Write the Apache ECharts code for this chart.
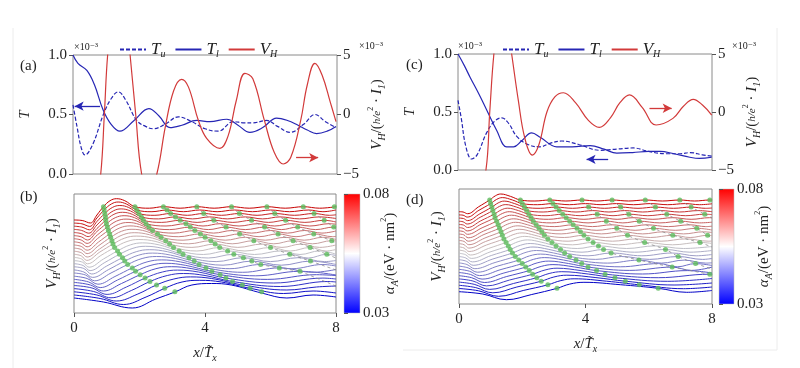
<!DOCTYPE html>
<html><head><meta charset="utf-8">
<script src="https://cdn.jsdelivr.net/npm/echarts@6/dist/echarts.min.js"></script>
<style>html,body{margin:0;padding:0;background:#fff}#c{width:800px;height:368px}</style>
</head><body><div id="c"></div>
<script>
// ---------- tick values ----------
const xTicks = [0, 4, 8];
const tTicks = [0, 0.5, 1];
const vTicks = [-5, 0, 5];
const alphaTicks = [0.03, 0.08];

// ---------- panel (a) ----------
const tuA = [[0,0.58],[0.12,0.4],[0.25,0.22],[0.36,0.16],[0.6,0.25],[0.92,0.5],[1.15,0.63],[1.37,0.69],[1.6,0.62],[1.93,0.45],[2.2,0.4],[2.43,0.38],[2.8,0.42],[3.19,0.48],[3.6,0.44],[4.0,0.38],[4.4,0.36],[4.86,0.44],[5.2,0.43],[5.45,0.43],[5.87,0.45],[6.2,0.4],[6.58,0.35],[7.0,0.42],[7.33,0.5],[7.65,0.44],[7.97,0.39]];
const tlA = [[0,1.0],[0.15,0.93],[0.42,0.87],[0.65,0.75],[0.91,0.54],[1.15,0.42],[1.42,0.36],[1.85,0.45],[2.3,0.55],[2.6,0.49],[2.94,0.39],[3.3,0.41],[3.75,0.45],[4.15,0.44],[4.66,0.46],[5.0,0.41],[5.36,0.35],[5.75,0.39],[6.17,0.47],[6.5,0.45],[6.82,0.41],[7.1,0.37],[7.38,0.34],[7.7,0.36],[7.97,0.4]];
const vhA = [[0,-14],[0.4,-11],[0.7,-7],[0.84,-5],[0.95,0],[1.05,5],[1.2,8.5],[1.45,9.5],[1.62,8],[1.73,5],[1.9,0],[2.08,-5],[2.3,-6.5],[2.54,-5],[2.8,-1],[3.05,2],[3.29,2.96],[3.5,2.3],[3.8,-0.5],[4.05,-2],[4.45,-2.84],[4.7,-1.8],[4.95,1.2],[5.21,3.46],[5.45,3.0],[5.8,-0.5],[6.1,-3.2],[6.37,-4.16],[6.6,-3.6],[6.9,-0.5],[7.1,2.5],[7.33,4.3],[7.55,3.3],[7.8,1.0],[7.97,-0.6]];
const arrowTA = [[0.82,0.57],[0.05,0.57]];
const arrowVA = [[6.76,-3.63],[7.43,-3.63]];

// ---------- panel (c) ----------
const tuC = [[0,0.6],[0.1,0.45],[0.25,0.2],[0.43,0.095],[0.6,0.13],[0.9,0.32],[1.15,0.42],[1.38,0.45],[1.6,0.4],[1.85,0.29],[2.2,0.22],[2.58,0.2],[2.9,0.23],[3.27,0.25],[3.8,0.22],[4.47,0.17],[5.0,0.18],[5.52,0.19],[6.0,0.16],[6.57,0.14],[7.0,0.14],[7.31,0.15],[7.7,0.13],[7.99,0.12]];
const tlC = [[0,1.0],[0.2,0.9],[0.38,0.8],[0.65,0.66],[0.9,0.52],[1.22,0.34],[1.53,0.2],[1.75,0.2],[2.0,0.25],[2.32,0.32],[2.6,0.28],[3.11,0.2],[3.6,0.2],[4.16,0.21],[4.6,0.18],[5.0,0.145],[5.5,0.15],[6.0,0.16],[6.36,0.16],[6.8,0.14],[7.3,0.11],[7.6,0.1],[7.99,0.11]];
const vhC = [[0,-14],[0.5,-10],[0.88,-5],[1.0,0],[1.13,5],[1.3,8.5],[1.5,8.5],[1.69,5],[1.9,1],[2.1,-2.2],[2.34,-3.71],[2.55,-2.8],[2.8,0],[3.05,1.3],[3.32,1.66],[3.7,0.8],[4.1,-0.7],[4.45,-1.32],[4.8,-0.5],[5.1,0.8],[5.4,1.47],[5.8,0.4],[6.24,-1.12],[6.77,-0.55],[7.1,0.5],[7.41,1.09],[7.7,0.6],[7.99,-0.26]];
const arrowVC = [[6.03,0.32],[6.73,0.32]];
const arrowTC = [[4.73,0.092],[4.05,0.092]];

// ---------- panel (b): V_H curves (offset display units), alpha 0.03 -> 0.08 ----------
const alphaB = [0.03,0.032,0.034,0.036,0.038,0.04,0.042,0.044,0.046,0.048,0.05,0.052,0.054,0.056,0.058,0.06,0.062,0.064,0.066,0.068,0.07,0.072,0.074,0.076,0.078,0.08];
const curvesB = [
[[0,15],[0.9,11],[1.78,5],[2.5,14],[3.08,21],[3.6,28],[4.2,29.5],[4.8,28],[5.73,20],[6.5,15],[7.3,18],[8,16]],
[[0,18],[0.8,14.5],[1.51,8.5],[2.2,16],[2.77,24.7],[3.3,31],[3.84,32.7],[4.5,31],[5.38,24.7],[6.4,19.5],[7.3,22],[8,20]],
[[0,21.2],[0.7,18],[1.29,12],[1.95,19],[2.52,28.1],[3.05,34],[3.56,36.1],[4.2,34.5],[5.14,28.1],[6.5,23],[7.4,26],[8,27]],
[[0,24.4],[0.6,21.5],[1.13,15.2],[1.75,22.5],[2.32,31.5],[2.85,37.5],[3.34,39.5],[4.0,37.5],[4.84,31.5],[6.3,26.5],[7.75,31.5],[8,31]],
[[0,27.5],[0.55,25],[1.01,18.6],[1.6,26],[2.17,34.9],[2.7,41],[3.16,42.9],[3.8,41],[4.64,34.9],[6.1,30],[7.6,34.9],[8,34]],
[[0,30.6],[0.5,28],[0.9,22],[1.45,29.5],[2.02,38.3],[2.5,44.3],[2.98,46.3],[3.6,44.3],[4.46,38.3],[5.9,33.6],[7.4,38.3],[8,37.5]],
[[0,33.7],[0.45,31],[0.8,25.4],[1.33,33],[1.88,41.7],[2.35,47.7],[2.81,49.7],[3.4,47.7],[4.21,41.7],[5.55,37.2],[6.9,41.7],[8,38]],
[[0,36.8],[0.4,34.5],[0.73,28.8],[1.25,36.5],[1.78,45.1],[2.23,51.1],[2.68,53.1],[3.25,51.1],[4.03,45.1],[5.15,40.7],[6.27,45.1],[7.3,40.7],[8,43.5]],
[[0,40],[0.35,38],[0.63,32.2],[1.13,40],[1.64,48.5],[2.08,54.5],[2.52,56.5],[3.1,54.5],[3.82,48.5],[4.76,44.3],[5.7,48.5],[6.65,44.3],[7.6,48.5],[8,47]],
[[0,43.1],[0.3,41],[0.57,35.6],[1.06,43.5],[1.55,51.9],[1.98,57.9],[2.4,59.9],[2.95,57.9],[3.67,51.9],[4.55,47.8],[5.43,51.9],[6.33,47.8],[7.22,51.9],[8,48.5]],
[[0,46.2],[0.3,44.5],[0.54,39],[1.0,47],[1.48,55.3],[1.9,61.3],[2.3,63.3],[2.85,61.3],[3.51,55.3],[4.34,51.4],[5.17,55.3],[6.0,51.4],[6.84,55.3],[7.65,51.4],[8,52.5]],
[[0,49.3],[0.28,47.5],[0.49,42.4],[0.94,50.5],[1.39,58.7],[1.8,64.7],[2.18,66.7],[2.7,64.7],[3.33,58.7],[4.1,55],[4.88,58.7],[5.73,55],[6.59,58.7],[7.15,55],[7.72,58.7],[8,57.5]],
[[0,52.4],[0.26,50.8],[0.46,45.8],[0.9,54],[1.33,62.1],[1.72,68.1],[2.09,70.1],[2.6,68.1],[3.21,62.1],[3.95,58.5],[4.69,62.1],[5.51,58.5],[6.33,62.1],[6.9,58.5],[7.5,62.1],[8,58.8]],
[[0,55.6],[0.23,54],[0.41,49.2],[0.82,57.5],[1.24,65.5],[1.62,71.5],[1.98,73.5],[2.5,71.5],[3.04,65.5],[3.75,62],[4.45,65.5],[5.22,62],[6.0,65.5],[6.6,62],[7.21,65.5],[7.7,62],[8,63.5]],
[[0,58.7],[0.22,57.2],[0.39,52.6],[0.79,61],[1.19,68.9],[1.55,74.9],[1.9,76.9],[2.4,74.9],[2.92,68.9],[3.6,65.6],[4.31,68.9],[5.0,65.6],[5.74,68.9],[6.35,65.6],[6.93,68.9],[7.5,65.6],[8,68]],
[[0,61.8],[0.22,60.3],[0.4,56],[0.78,64],[1.16,72.3],[1.5,78.3],[1.84,80.3],[2.3,78.3],[2.8,72.3],[3.5,69.2],[4.18,72.3],[4.83,69.2],[5.49,72.3],[6.1,69.2],[6.69,72.3],[7.28,69.2],[7.87,72.3],[8,72]],
[[0,64.9],[0.22,63.5],[0.4,59.4],[0.76,67.5],[1.12,75.7],[1.45,81.7],[1.77,83.7],[2.2,81.7],[2.66,75.7],[3.33,72.8],[4.0,75.7],[4.62,72.8],[5.23,75.7],[5.84,72.8],[6.45,75.7],[7.03,72.8],[7.6,75.7],[8,73.5]],
[[0,68],[0.22,66.6],[0.4,62.8],[0.75,71],[1.09,79.1],[1.4,85.1],[1.71,87.1],[2.1,85.1],[2.55,79.1],[3.2,76.3],[3.86,79.1],[4.46,76.3],[5.06,79.1],[5.65,76.3],[6.23,79.1],[6.78,76.3],[7.32,79.1],[7.9,76.3],[8,76.6]],
[[0,71.2],[0.22,69.8],[0.4,66.2],[0.72,74.5],[1.05,82.5],[1.35,88.5],[1.65,90.5],[2.0,88.5],[2.4,82.5],[3.05,79.9],[3.69,82.5],[4.26,79.9],[4.83,82.5],[5.42,79.9],[6.01,82.5],[6.52,79.9],[7.04,82.5],[7.57,79.9],[8,82]],
[[0,74.3],[0.22,73],[0.4,69.6],[0.71,78],[1.02,85.9],[1.3,91.9],[1.59,93.9],[1.92,91.9],[2.29,85.9],[2.92,83.4],[3.55,85.9],[4.1,83.4],[4.64,85.9],[5.23,83.4],[5.82,85.9],[6.33,83.4],[6.83,85.9],[7.38,83.4],[7.93,85.9],[8,85.8]],
[[0,77.4],[0.22,76.2],[0.41,73],[0.7,81.5],[0.99,89.3],[1.26,95.3],[1.53,97.3],[1.85,95.3],[2.2,89.3],[2.81,87],[3.42,89.3],[3.94,87],[4.46,89.3],[5.04,87],[5.62,89.3],[6.13,87],[6.64,89.3],[7.2,87],[7.79,89.3],[8,88.8]],
[[0,80.5],[0.22,79.4],[0.43,76.4],[0.7,84.5],[0.97,92.7],[1.22,98.7],[1.48,100.7],[1.78,98.7],[2.12,92.7],[2.68,90.6],[3.24,92.7],[3.76,90.6],[4.27,92.7],[4.85,90.6],[5.42,92.7],[5.94,90.6],[6.46,92.7],[7.05,90.6],[7.64,92.7],[8,91]],
[[0,83.6],[0.23,82.6],[0.45,79.8],[0.7,88],[0.96,96.1],[1.2,102.1],[1.44,104.1],[1.72,102.1],[2.06,96.1],[2.58,94.1],[3.1,96.1],[3.62,94.1],[4.14,96.1],[4.68,94.1],[5.23,96.1],[5.76,94.1],[6.29,96.1],[6.89,94.1],[7.49,96.1],[8,94.5]],
[[0,86.8],[0.24,85.9],[0.47,83.2],[0.7,91.5],[0.94,99.5],[1.17,105.5],[1.4,107.5],[1.67,105.5],[1.98,99.5],[2.47,97.7],[2.95,99.5],[3.46,97.7],[3.96,99.5],[4.5,97.7],[5.05,99.5],[5.59,97.7],[6.13,99.5],[6.73,97.7],[7.33,99.5],[7.8,97.7],[8,98.2]],
[[0,89.9],[0.24,89.2],[0.48,86.6],[0.7,95],[0.92,103],[1.14,109],[1.35,111],[1.6,109],[1.92,103],[2.38,101.3],[2.84,103],[3.34,101.3],[3.84,103],[4.37,101.3],[4.9,103],[5.45,101.3],[6.0,103],[6.58,101.3],[7.16,103],[7.6,101.3],[8,103]],
[[0,93],[0.25,92.5],[0.5,90],[0.7,98],[0.9,106.3],[1.1,112.3],[1.3,114.3],[1.55,112.3],[1.86,106.3],[2.3,104.8],[2.73,106.3],[3.24,104.8],[3.75,106.3],[4.28,104.8],[4.81,106.3],[5.35,104.8],[5.89,106.3],[6.45,104.8],[7.0,106.3],[7.5,104.8],[8,106.3]]
];
const r1B = [[3.08,21.3],[2.77,24.7],[2.52,28.1],[2.32,31.5],[2.17,34.9],[2.02,38.3],[1.88,41.7],[1.78,45.1],[1.64,48.5],[1.55,51.9],[1.48,55.3],[1.39,58.7],[1.33,62.1],[1.24,65.5],[1.19,68.9],[1.16,72.3],[1.12,75.7],[1.09,79.1],[1.05,82.5],[1.02,85.9],[0.99,89.3],[0.97,92.7],[0.96,96.1],[0.94,99.5],[0.92,102.9],[0.9,106.3]];
const r2B = [[5.73,21.3],[5.38,24.7],[5.14,28.1],[4.84,31.5],[4.64,34.9],[4.46,38.3],[4.21,41.7],[4.03,45.1],[3.82,48.5],[3.67,51.9],[3.51,55.3],[3.33,58.7],[3.21,62.1],[3.04,65.5],[2.92,68.9],[2.8,72.3],[2.66,75.7],[2.55,79.1],[2.4,82.5],[2.29,85.9],[2.2,89.3],[2.12,92.7],[2.06,96.1],[1.98,99.5],[1.92,102.9],[1.86,106.3]];
const r3B = [[2.73,106.3],[2.84,102.9],[2.95,99.5],[3.1,96.1],[3.24,92.7],[3.42,89.3],[3.55,85.9],[3.69,82.5],[3.86,79.1],[4.0,75.7],[4.18,72.3],[4.31,68.9],[4.45,65.5],[4.69,62.1],[4.88,58.7],[5.17,55.3],[5.43,51.9],[5.7,48.5],[6.27,45.1],[6.9,41.7]];
const r4B = [[3.75,106.3],[3.96,99.5],[4.27,92.7],[4.64,85.9],[5.06,79.1],[5.49,72.3],[6.0,65.5],[6.59,58.7],[7.22,51.9]];
const r5B = [[4.81,106.3],[5.05,99.5],[5.42,92.7],[5.82,85.9],[6.23,79.1],[6.69,72.3],[7.21,65.5],[7.72,58.7]];
const r6B = [[5.89,106.3],[6.13,99.5],[6.46,92.7],[6.83,85.9],[7.32,79.1],[7.87,72.3]];
const r7B = [[7.0,106.3],[7.33,99.5],[7.64,92.7],[7.93,85.9]];
const r8B = [[7.95,106.3]];
const tailB = [[[6.9,41.7],[8,27]],[[7.22,51.9],[8,43]],[[7.72,58.7],[8,55]],[[7.87,72.3],[8,70]],[[7.93,85.9],[8,84.5]]];

// ---------- panel (d) ----------
const curvesD = [
[[0,12.3],[0.75,10],[1.5,4.3],[2.3,9.5],[3.1,15.7],[3.5,19.9],[3.95,21.7],[5.1,19.3],[6.3,15.7],[7.2,11.7],[8,13.5]],
[[0,15.5],[0.62,13.2],[1.25,7.7],[2.03,13.5],[2.81,19.2],[3.22,23.4],[3.64,25.2],[4.67,22.8],[5.7,19.2],[7.1,15.3],[8,17]],
[[0,18.7],[0.53,16.4],[1.07,11.2],[1.83,17],[2.6,22.8],[3.0,27],[3.41,28.8],[4.33,26.4],[5.26,22.8],[6.8,19],[8,21]],
[[0,21.9],[0.48,19.7],[0.97,14.6],[1.72,20.5],[2.46,26.3],[2.85,30.5],[3.25,32.3],[4.1,29.9],[4.93,26.3],[6.6,22.7],[8,25.5]],
[[0,25.1],[0.44,23],[0.87,18.1],[1.6,24],[2.33,29.8],[2.72,34],[3.1,35.8],[3.86,33.4],[4.62,29.8],[6.3,26.3],[7.93,29.8],[8,29.8]],
[[0,28.3],[0.4,26.3],[0.8,21.5],[1.51,27.5],[2.22,33.4],[2.6,37.6],[2.97,39.4],[3.66,37],[4.35,33.4],[5.8,30],[7.22,33.4],[8,31]],
[[0,31.5],[0.36,29.6],[0.73,24.9],[1.42,31],[2.11,36.9],[2.47,41.1],[2.84,42.9],[3.46,40.5],[4.08,36.9],[5.4,33.6],[6.74,36.9],[7.35,33.6],[8,36.9]],
[[0,34.7],[0.33,32.8],[0.65,28.4],[1.33,34.5],[2.0,40.4],[2.35,44.6],[2.71,46.4],[3.3,44],[3.88,40.4],[5.1,37.2],[6.31,40.4],[6.9,37.2],[7.48,40.4],[8,38.5]],
[[0,37.9],[0.29,36.1],[0.58,31.8],[1.23,38],[1.89,43.9],[2.23,48.1],[2.58,49.9],[3.14,47.5],[3.7,43.9],[4.7,40.9],[5.69,43.9],[6.4,40.9],[7.12,43.9],[7.8,40.9],[8,41.2]],
[[0,41.1],[0.25,39.5],[0.5,35.3],[1.14,41.5],[1.78,47.5],[2.12,51.7],[2.45,53.5],[2.98,51.1],[3.5,47.5],[4.32,44.6],[5.14,47.5],[6.03,44.6],[6.93,47.5],[7.7,44.6],[8,45.5]],
[[0,44.3],[0.23,42.8],[0.45,38.7],[1.07,45],[1.69,51],[2.02,55.2],[2.34,57],[2.84,54.6],[3.34,51],[4.08,48.2],[4.81,51],[5.78,48.2],[6.74,51],[7.5,48.2],[8,49.5]],
[[0,47.5],[0.21,46.1],[0.42,42.1],[1.02,48.5],[1.62,54.5],[1.94,58.7],[2.25,60.5],[2.73,58.1],[3.21,54.5],[3.89,51.8],[4.57,54.5],[5.55,51.8],[6.53,54.5],[7.3,51.8],[8,53.5]],
[[0,50.7],[0.2,49.4],[0.39,45.6],[0.98,52],[1.56,58.1],[1.87,62.3],[2.17,64.1],[2.62,61.7],[3.07,58.1],[3.74,55.5],[4.41,58.1],[5.3,55.5],[6.19,58.1],[7.1,55.5],[8,57.5]],
[[0,53.9],[0.18,52.7],[0.36,49],[0.93,55.5],[1.49,61.6],[1.79,65.8],[2.08,67.6],[2.51,65.2],[2.94,61.6],[3.59,59.2],[4.24,61.6],[5.05,59.2],[5.87,61.6],[6.75,59.2],[7.62,61.6],[8,60.5]],
[[0,57.1],[0.16,56],[0.32,52.5],[0.87,59],[1.42,65.1],[1.71,69.3],[1.99,71.1],[2.4,68.7],[2.81,65.1],[3.45,62.8],[4.08,65.1],[4.85,62.8],[5.61,65.1],[6.39,62.8],[7.17,65.1],[7.9,62.8],[8,63]],
[[0,60.3],[0.16,59.3],[0.31,55.9],[0.84,62.5],[1.37,68.7],[1.65,72.9],[1.92,74.7],[2.31,72.3],[2.7,68.7],[3.33,66.5],[3.95,68.7],[4.64,66.5],[5.33,68.7],[6.05,66.5],[6.76,68.7],[7.31,66.5],[7.86,68.7],[8,68.4]],
[[0,63.5],[0.16,62.6],[0.31,59.3],[0.82,66],[1.33,72.2],[1.6,76.4],[1.86,78.2],[2.24,75.8],[2.62,72.2],[3.23,70.1],[3.84,72.2],[4.5,70.1],[5.16,72.2],[5.81,70.1],[6.46,72.2],[7.1,70.1],[7.73,72.2],[8,71.5]],
[[0,66.7],[0.15,65.9],[0.29,62.8],[0.79,69.5],[1.28,75.7],[1.54,79.9],[1.79,81.7],[2.16,79.3],[2.53,75.7],[3.13,73.7],[3.73,75.7],[4.36,73.7],[4.99,75.7],[5.57,73.7],[6.15,75.7],[6.84,73.7],[7.52,75.7],[8,74]],
[[0,69.9],[0.15,69.2],[0.29,66.2],[0.77,72.8],[1.24,79.2],[1.49,83.4],[1.73,85.2],[2.09,82.8],[2.44,79.2],[3.03,77.4],[3.61,79.2],[4.22,77.4],[4.83,79.2],[5.38,77.4],[5.93,79.2],[6.62,77.4],[7.3,79.2],[7.8,77.4],[8,77.8]],
[[0,73.1],[0.14,72.4],[0.27,69.7],[0.73,76.2],[1.19,82.8],[1.43,87],[1.66,88.8],[2.0,86.4],[2.35,82.8],[2.93,81.1],[3.5,82.8],[4.08,81.1],[4.66,82.8],[5.18,81.1],[5.7,82.8],[6.35,81.1],[7.01,82.8],[7.6,81.1],[8,81.8]],
[[0,76.3],[0.13,75.7],[0.26,73.1],[0.7,79.8],[1.14,86.3],[1.37,90.5],[1.59,92.3],[1.93,89.9],[2.28,86.3],[2.83,84.7],[3.39,86.3],[3.95,84.7],[4.51,86.3],[5.0,84.7],[5.5,86.3],[6.13,84.7],[6.76,86.3],[7.34,84.7],[7.92,86.3],[8,86.2]],
[[0,79.5],[0.14,79],[0.27,76.5],[0.69,83.2],[1.11,89.8],[1.33,94],[1.54,95.8],[1.88,93.4],[2.21,89.8],[2.75,88.3],[3.28,89.8],[3.83,88.3],[4.37,89.8],[4.87,88.3],[5.37,89.8],[5.97,88.3],[6.57,89.8],[7.17,88.3],[7.77,89.8],[8,89.4]],
[[0,82.7],[0.13,82.2],[0.26,80],[0.67,86.7],[1.07,93.4],[1.28,97.6],[1.48,99.4],[1.81,97],[2.14,93.4],[2.66,92],[3.17,93.4],[3.7,92],[4.23,93.4],[4.74,92],[5.24,93.4],[5.81,92],[6.38,93.4],[6.97,92],[7.56,93.4],[8,92.3]],
[[0,85.9],[0.14,85.5],[0.27,83.4],[0.66,90.2],[1.04,96.9],[1.24,101.1],[1.43,102.9],[1.75,100.5],[2.07,96.9],[2.57,95.7],[3.07,96.9],[3.59,95.7],[4.1,96.9],[4.6,95.7],[5.11,96.9],[5.66,95.7],[6.21,96.9],[6.78,95.7],[7.34,96.9],[7.8,95.7],[8,96]],
[[0,89.1],[0.13,88.8],[0.26,86.9],[0.63,93.7],[1.0,100.4],[1.19,104.6],[1.37,106.4],[1.69,104],[2.0,100.4],[2.49,99.3],[2.97,100.4],[3.49,99.3],[4.0,100.4],[4.49,99.3],[4.98,100.4],[5.52,99.3],[6.05,100.4],[6.6,99.3],[7.16,100.4],[7.6,99.3],[8,100.2]],
[[0,92.3],[0.13,92],[0.27,90.3],[0.62,97.2],[0.97,104],[1.15,108.2],[1.32,110],[1.63,107.6],[1.94,104],[2.4,103],[2.87,104],[3.38,103],[3.89,104],[4.36,103],[4.84,104],[5.36,103],[5.89,104],[6.43,103],[6.98,104],[7.45,103],[7.93,104],[8,104]]
];
const r1D = [[3.1,15.7],[2.81,19.2],[2.6,22.8],[2.46,26.3],[2.33,29.8],[2.22,33.4],[2.11,36.9],[2.0,40.4],[1.89,43.9],[1.78,47.5],[1.69,51],[1.62,54.5],[1.56,58.1],[1.49,61.6],[1.42,65.1],[1.37,68.7],[1.33,72.2],[1.28,75.7],[1.24,79.2],[1.19,82.8],[1.14,86.3],[1.11,89.8],[1.07,93.4],[1.04,96.9],[1.0,100.4],[0.97,104]];
const r2D = [[6.3,15.7],[5.7,19.2],[5.26,22.8],[4.93,26.3],[4.62,29.8],[4.35,33.4],[4.08,36.9],[3.88,40.4],[3.7,43.9],[3.5,47.5],[3.34,51],[3.21,54.5],[3.07,58.1],[2.94,61.6],[2.81,65.1],[2.7,68.7],[2.62,72.2],[2.53,75.7],[2.44,79.2],[2.35,82.8],[2.28,86.3],[2.21,89.8],[2.14,93.4],[2.07,96.9],[2.0,100.4],[1.94,104]];
const r3D = [[2.87,104],[2.97,100.4],[3.07,96.9],[3.17,93.4],[3.28,89.8],[3.39,86.3],[3.5,82.8],[3.61,79.2],[3.73,75.7],[3.84,72.2],[3.95,68.7],[4.08,65.1],[4.24,61.6],[4.41,58.1],[4.57,54.5],[4.81,51],[5.69,43.9],[6.74,36.9],[7.93,29.8]];
const r4D = [[3.89,104],[4.1,96.9],[4.37,89.8],[4.66,82.8],[4.99,75.7],[5.33,68.7],[5.87,61.6],[6.53,54.5],[6.93,47.5],[7.48,40.4]];
const r5D = [[4.84,104],[5.11,96.9],[5.37,89.8],[5.7,82.8],[6.15,75.7],[6.76,68.7],[7.62,61.6]];
const r6D = [[5.89,104],[6.21,96.9],[6.57,89.8],[7.01,82.8],[7.52,75.7],[7.86,68.7]];
const r7D = [[6.98,104],[7.34,96.9],[7.77,89.8]];
const r8D = [[7.93,104]];
const tailD = [[[7.48,40.4],[8,35]],[[7.62,61.6],[8,57]],[[7.86,68.7],[8,66]],[[7.77,89.8],[8,86]]];

// ---------- styling ----------
const FONT = "'Liberation Serif','DejaVu Serif',serif";
const BLUE = '#2626b4', RED = '#d23a3a', GREEN = '#5cbb5c', FRAME = '#8a8a8a';
const rich = {
  i:{fontFamily:FONT,fontStyle:'italic',fontSize:15,lineHeight:20,color:'#222'},
  n:{fontFamily:FONT,fontSize:15,lineHeight:20,color:'#222'},
  s:{fontFamily:FONT,fontStyle:'italic',fontSize:10,lineHeight:10,verticalAlign:'bottom',color:'#222'},
  f:{fontFamily:FONT,fontStyle:'italic',fontSize:11,lineHeight:20,color:'#222'},
  sup:{fontFamily:FONT,fontSize:8,lineHeight:8,verticalAlign:'top',color:'#222'}
};
const vhName = '{i|V}{s|H}{n|/(}{f|h/e}{sup|2}{n| · }{i|I}{s|1}{n|)}';
const alphaName = '{i|α}{s|A}{n|/(eV · nm}{sup|2}{n|)}';
const xName = '{i|x}{n|/}{i|T̃}{s|x}';
const minus = v => v < 0 ? '\u2212' + Math.abs(v) : String(v);

function bwr(f){
  let r,g,b;
  if (f < 0.5){ r = g = 2*f; b = 1; } else { r = 1; g = b = 2 - 2*f; }
  const s = 0.78;
  return 'rgb(' + Math.round(r*255*s) + ',' + Math.round(g*255*s) + ',' + Math.round(b*255*s) + ')';
}
const cbGradient = {type:'linear',x:0,y:0,x2:0,y2:1,colorStops:[{offset:0,color:'#ff0000'},{offset:0.5,color:'#ffffff'},{offset:1,color:'#0000ff'}]};

const grids = [
  {left:73, top:55, width:264, height:119, show:true, borderColor:FRAME, borderWidth:1},
  {left:74, top:194, width:262, height:119, show:true, borderColor:FRAME, borderWidth:1},
  {left:344, top:194, width:16, height:119, show:true, borderColor:'#bbb', borderWidth:0.5, backgroundColor:cbGradient},
  {left:458, top:54, width:254, height:116, show:true, borderColor:FRAME, borderWidth:1},
  {left:459, top:189, width:253, height:115, show:true, borderColor:FRAME, borderWidth:1},
  {left:719, top:189, width:15, height:115, show:true, borderColor:'#bbb', borderWidth:0.5, backgroundColor:cbGradient}
];
const tickStyle = {show:true, inside:false, length:4, lineStyle:{color:'#555'}};
const lbl = {color:'#222', fontFamily:FONT, fontSize:15};
function xTop(g){ return {gridIndex:g, type:'value', min:0, max:8, interval:4, axisLine:{show:false}, axisTick:{show:false}, axisLabel:{show:false}, splitLine:{show:false}}; }
function xBot(g){ return {gridIndex:g, type:'value', min:0, max:8, interval:4, axisLine:{show:false}, axisTick:tickStyle,
  axisLabel:Object.assign({margin:8, formatter:v => xTicks.includes(v) ? String(v) : ''}, lbl), splitLine:{show:false},
  name:xName, nameLocation:'middle', nameGap:30, nameMoveOverlap:false, nameTextStyle:{rich}}; }
function xHidden(g){ return {gridIndex:g, type:'value', min:0, max:1, show:false}; }
function yT(g){ return {gridIndex:g, type:'value', min:0, max:1, interval:0.5, position:'left', axisLine:{show:false}, axisTick:tickStyle,
  axisLabel:Object.assign({margin:6, formatter:v => tTicks.includes(v) ? v.toFixed(1) : ''}, lbl), splitLine:{show:false},
  name:'{i|T}', nameLocation:'middle', nameGap:38, nameMoveOverlap:false, nameRotate:90, nameTextStyle:{rich}}; }
function yV(g){ return {gridIndex:g, type:'value', min:-5, max:5, interval:5, position:'right', axisLine:{show:false}, axisTick:tickStyle,
  axisLabel:Object.assign({margin:6, formatter:v => vTicks.includes(v) ? minus(v) : ''}, lbl), splitLine:{show:false},
  name:vhName, nameLocation:'middle', nameGap:30, nameMoveOverlap:false, nameRotate:90, nameTextStyle:{rich}}; }
function yW(g, max, gap){ return {gridIndex:g, type:'value', min:0, max:max, axisLine:{show:false}, axisTick:{show:false}, axisLabel:{show:false}, splitLine:{show:false},
  name:vhName, nameLocation:'middle', nameGap:gap, nameMoveOverlap:false, nameRotate:90, nameTextStyle:{rich}}; }
function yCB(g){ return {gridIndex:g, type:'value', min:0.03, max:0.08, position:'right', axisLine:{show:false},
  axisTick:Object.assign({customValues:alphaTicks}, tickStyle), axisLabel:Object.assign({margin:3, customValues:alphaTicks, formatter:v => v.toFixed(2)}, lbl),
  splitLine:{show:false}, name:alphaName, nameLocation:'middle', nameGap:20, nameMoveOverlap:false, nameRotate:90, nameTextStyle:{rich}}; }

const series = [];
function topSeries(xi, yiT, yiV, tu, tl, vh, arrT, arrV){
  series.push({name:'Tu', type:'line', xAxisIndex:xi, yAxisIndex:yiT, data:tu, symbol:'none', smooth:0.4,
    lineStyle:{color:BLUE, width:1.2, type:[4,2]}, itemStyle:{color:BLUE}});
  series.push({name:'Tl', type:'line', xAxisIndex:xi, yAxisIndex:yiT, data:tl, symbol:'none', smooth:0.4,
    lineStyle:{color:BLUE, width:1.2}, itemStyle:{color:BLUE},
    markLine:{silent:true, symbol:['none','arrow'], symbolSize:[7,9], label:{show:false}, lineStyle:{color:BLUE, type:'solid', width:1.3},
      data:[[{coord:arrT[0]},{coord:arrT[1]}]]}});
  series.push({name:'VH', type:'line', xAxisIndex:xi, yAxisIndex:yiV, data:vh, symbol:'none', smooth:0.4, clip:true,
    lineStyle:{color:RED, width:1.2}, itemStyle:{color:RED},
    markLine:{silent:true, symbol:['none','arrow'], symbolSize:[7,9], label:{show:false}, lineStyle:{color:RED, type:'solid', width:1.3},
      data:[[{coord:arrV[0]},{coord:arrV[1]}]]}});
}
topSeries(0, 0, 1, tuA, tlA, vhA, arrowTA, arrowVA);
topSeries(3, 4, 5, tuC, tlC, vhC, arrowTC, arrowVC);

function fan(xi, yi, curves, ridges, dashed, tails){
  curves.forEach((c, k) => {
    series.push({type:'line', xAxisIndex:xi, yAxisIndex:yi, data:c, symbol:'none', smooth:0.4, z:2,
      lineStyle:{color:bwr((alphaB[k]-0.03)/0.05), width:1}});
  });
  dashed.forEach(d => series.push({type:'line', xAxisIndex:xi, yAxisIndex:yi, data:d, symbol:'none', smooth:0.3, z:3,
    lineStyle:{color:'#8c8c8c', width:0.8, type:[3,3]}}));
  tails.forEach(d => series.push({type:'line', xAxisIndex:xi, yAxisIndex:yi, data:d, symbol:'none', z:3,
    lineStyle:{color:'#8c8c8c', width:0.8, type:[3,3]}}));
  ridges.forEach(r => series.push({type:'scatter', xAxisIndex:xi, yAxisIndex:yi, data:r, symbolSize:5, z:4,
    itemStyle:{color:GREEN}}));
}
fan(1, 2, curvesB, [r1B,r2B,r3B,r4B,r5B,r6B,r7B,r8B], [r3B,r4B,r5B,r6B,r7B], tailB);
fan(4, 6, curvesD, [r1D,r2D,r3D,r4D,r5D,r6D,r7D,r8D], [r3D,r4D,r5D,r6D,r7D], tailD);

const legRich = {
  i:{fontFamily:FONT,fontStyle:'italic',fontSize:17,lineHeight:20,color:'#222'},
  s:{fontFamily:FONT,fontStyle:'italic',fontSize:10,lineHeight:10,verticalAlign:'bottom',color:'#222'}
};
const legFmt = n => ({Tu:'{i|T}{s|u}', Tl:'{i|T}{s|l}', VH:'{i|V}{s|H}'})[n];
function legend(left){ return {left:left, top:36, data:['Tu','Tl','VH'], itemWidth:26, itemHeight:12, itemGap:9,
  formatter:legFmt, textStyle:{rich:legRich}, selectedMode:false, itemStyle:{opacity:0}}; }

function txt(x, y, s, size){ return {type:'text', left:x, top:y, silent:true, style:{text:s, fill:'#222', font:(size||15)+'px ' + FONT}}; }

const option = {
  animation:false,
  backgroundColor:'#fff',
  grid:grids,
  xAxis:[xTop(0), xBot(1), xHidden(2), xTop(3), xBot(4), xHidden(5)],
  yAxis:[yT(0), yV(0), yW(1, 119, 12), yCB(2), yT(3), yV(3), yW(4, 115, 12), yCB(5)],
  legend:[legend(114), legend(497)],
  series:series,
  graphic:[
    txt(20, 59, '(a)'), txt(20, 190, '(b)'), txt(406, 58, '(c)'), txt(406, 193, '(d)'),
    txt(74, 42, '×10⁻³', 10), txt(359, 41, '×10⁻³', 10), txt(458, 41, '×10⁻³', 10), txt(732, 41, '×10⁻³', 10),
    {type:'line', silent:true, shape:{x1:13, y1:28, x2:13, y2:368}, style:{stroke:'#ececec', lineWidth:1}},
    {type:'line', silent:true, shape:{x1:777, y1:28, x2:777, y2:350}, style:{stroke:'#ececec', lineWidth:1}},
    {type:'line', silent:true, shape:{x1:403, y1:350, x2:777, y2:350}, style:{stroke:'#ececec', lineWidth:1}}
  ]
};
const chart = echarts.init(document.getElementById('c'), null, {renderer:'canvas'});
chart.setOption(option);
</script></body></html>
